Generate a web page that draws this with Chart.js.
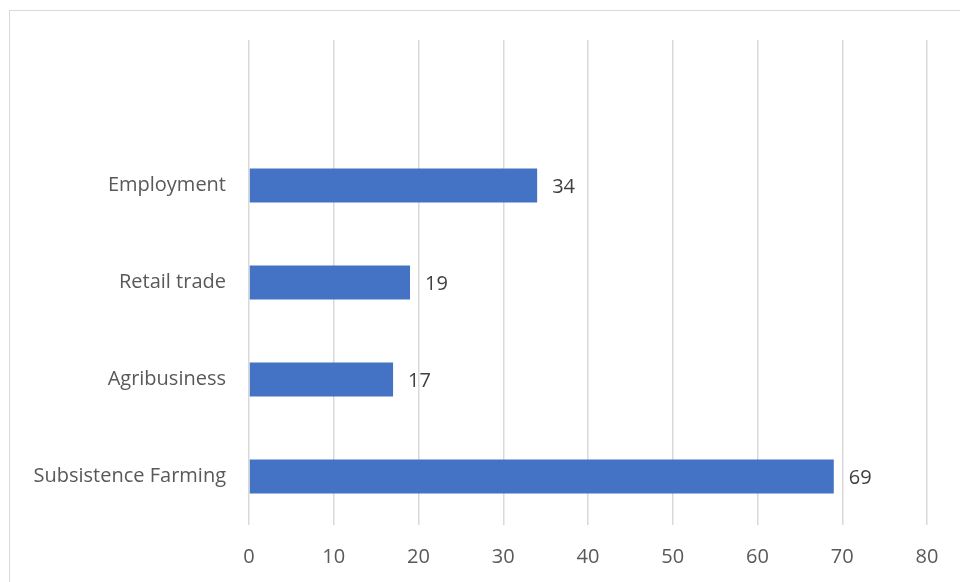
<!DOCTYPE html>
<html>
<head>
<meta charset="utf-8">
<script src="https://cdn.jsdelivr.net/npm/chart.js@4"></script>
<style>
  html, body { margin: 0; padding: 0; background: #fff; overflow: hidden; }
  #frame { position: absolute; left: 9px; top: 10px; width: 1000px; height: 620px; border: 1px solid #d9d9d9; }
  #wrap { position: absolute; left: 0; top: 0; width: 960px; height: 582px; }
</style>
</head>
<body>
<div id="frame"></div>
<div id="wrap"><canvas id="barChart" width="960" height="582"></canvas></div>
<script>
// first slot is left blank on purpose
const categories = ['', 'Employment', 'Retail trade', 'Agribusiness', 'Subsistence Farming'];
const counts = [null, 34, 19, 17, 69];
const xTicks = [0, 10, 20, 30, 40, 50, 60, 70, 80];

const FONT = '"Open Sans", sans-serif';
const SIZE = 20;

// writes the value just past the end of each bar
const valueLabels = {
  id: 'valueLabels',
  afterDatasetsDraw(chart) {
    const c = chart.ctx;
    const meta = chart.getDatasetMeta(0);
    c.save();
    c.font = SIZE + 'px ' + FONT;
    c.fillStyle = '#404040';
    c.textAlign = 'left';
    c.textBaseline = 'middle';
    meta.data.forEach((bar, i) => {
      const v = counts[i];
      if (v == null) return;
      c.fillText(String(v), bar.x + 15, bar.y + 2);
    });
    c.restore();
  }
};

const ctx = document.getElementById('barChart').getContext('2d');
const chart = new Chart(ctx, {
  type: 'bar',
  data: {
    labels: categories,
    datasets: [{
      data: counts,
      backgroundColor: '#4472C4',
      borderWidth: 0,
      categoryPercentage: 1,
      barPercentage: 0.35
    }]
  },
  options: {
    indexAxis: 'y',
    responsive: false,
    animation: false,
    layout: { padding: { top: 40, right: 33, bottom: 0, left: 0 } },
    plugins: {
      legend: { display: false },
      tooltip: { enabled: false }
    },
    scales: {
      x: {
        min: 0,
        max: 80,
        afterBuildTicks(axis) {
          axis.ticks = xTicks.map(v => ({ value: v }));
        },
        afterFit(axis) { axis.height = 57; },
        grid: { color: '#d9d9d9', lineWidth: 1.5, drawTicks: false },
        border: { display: false },
        ticks: {
          padding: 20,
          color: '#595959',
          font: { family: FONT, size: SIZE }
        }
      },
      y: {
        afterFit(axis) { axis.width = 249; },
        grid: { display: false, drawTicks: false },
        border: { display: false },
        ticks: {
          padding: 23,
          color: '#595959',
          font: { family: FONT, size: SIZE }
        }
      }
    }
  },
  plugins: [valueLabels]
});
</script>
</body>
</html>
